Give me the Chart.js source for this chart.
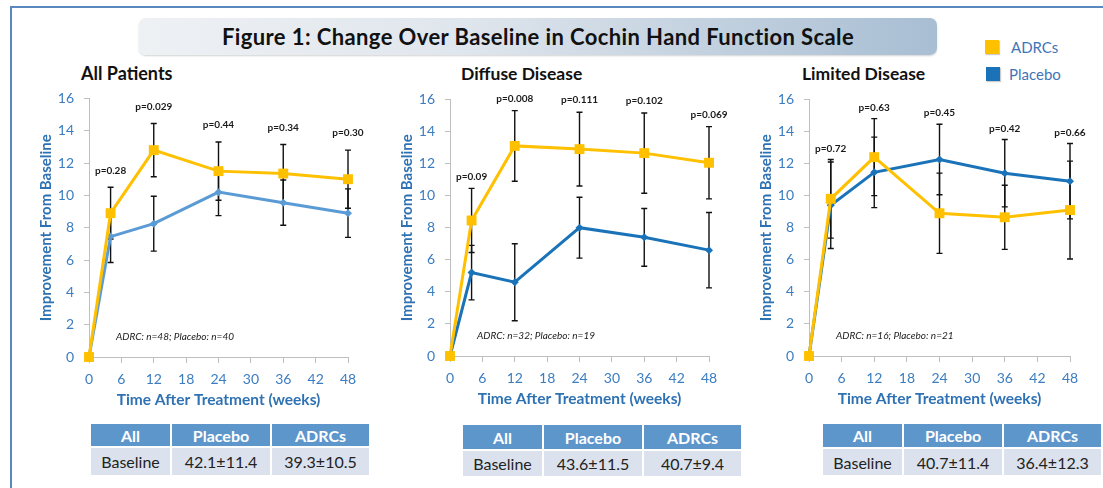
<!DOCTYPE html>
<html><head><meta charset="utf-8">
<script src="https://cdn.jsdelivr.net/npm/chart.js@4.4.1/dist/chart.umd.min.js"></script>
<style>
html,body{margin:0;padding:0;background:#fff;width:1103px;height:488px;overflow:hidden;font-family:Lato,'Open Sans',sans-serif;}
#frame{position:absolute;left:10px;top:6px;width:1200px;height:600px;border-top:2px solid #5b87c0;border-left:2px solid #5b87c0;}
#titlebox{position:absolute;left:139px;top:18px;width:798px;height:37px;border-radius:7px;
 background:linear-gradient(to right,#eef1f4 0%,#e0e6ed 40%,#a8bed3 100%);box-shadow:0 1px 2px rgba(0,0,0,0.18);
 display:flex;align-items:center;justify-content:center;font-weight:bold;font-size:22px;letter-spacing:0.4px;color:#111;}
.sub{position:absolute;font-weight:bold;font-size:17.5px;color:#111;line-height:20px;white-space:nowrap;}
.cw{position:absolute;}
.legsq{position:absolute;width:14px;height:14px;box-shadow:1px 1px 1px rgba(0,0,0,0.2);}
.legtx{position:absolute;font-size:15px;color:#3f75b8;line-height:18px;}
table{position:absolute;border-collapse:collapse;}
th,td{border:2px solid #fff;padding:0;text-align:center;white-space:nowrap;}
th{background:#5d96cb;color:#fff;font-weight:bold;font-size:16px;}
td{background:#dbe2ee;color:#222;font-size:16px;}
</style></head>
<body>
<div id="frame"></div>
<div id="titlebox">Figure 1: Change Over Baseline in Cochin Hand Function Scale</div>

<div class="legsq" style="left:985px;top:40px;background:#ffc000"></div>
<div class="legtx" style="left:1011px;top:38px">ADRCs</div>
<div class="legsq" style="left:986px;top:67px;background:#1a73b8"></div>
<div class="legtx" style="left:1009px;top:65px">Placebo</div>

<div class="sub" style="left:81px;top:63px;font-size:18px">All Patients</div>
<div class="sub" style="left:461px;top:64px">Diffuse Disease</div>
<div class="sub" style="left:802px;top:64px">Limited Disease</div>

<div class="cw" id="w1"><canvas id="c1"></canvas></div>
<div class="cw" id="w2"><canvas id="c2"></canvas></div>
<div class="cw" id="w3"><canvas id="c3"></canvas></div>

<div id="tables"></div>

<script>
// ---- data ----
const weeks = [0, 4, 12, 24, 36, 48];
const seriesNames = ['ADRCs', 'Placebo'];

const allAdrc       = [0, 8.9, 12.8, 11.5, 11.35, 11.0];
const allAdrcErr    = [0, 1.6, 1.65, 1.8, 1.8, 1.8];
const allPlacebo    = [0, 7.45, 8.25, 10.2, 9.55, 8.9];
const allPlaceboErr = [0, 1.6, 1.7, 1.45, 1.4, 1.5];
const allP          = ['p=0.28', 'p=0.029', 'p=0.44', 'p=0.34', 'p=0.30'];
const allN          = 'ADRC: n=48; Placebo: n=40';

const difAdrc       = [0, 8.45, 13.1, 12.9, 12.65, 12.05];
const difAdrcErr    = [0, 2.0, 2.2, 2.3, 2.5, 2.25];
const difPlacebo    = [0, 5.2, 4.6, 8.0, 7.4, 6.6];
const difPlaceboErr = [0, 1.7, 2.4, 1.9, 1.8, 2.35];
const difP          = ['p=0.09', 'p=0.008', 'p=0.111', 'p=0.102', 'p=0.069'];
const difN          = 'ADRC: n=32; Placebo: n=19';

const limAdrc       = [0, 9.8, 12.4, 8.9, 8.65, 9.1];
const limAdrcErr    = [0, 2.45, 2.4, 2.5, 2.0, 3.05];
const limPlacebo    = [0, 9.4, 11.45, 12.25, 11.4, 10.9];
const limPlaceboErr = [0, 2.7, 2.2, 2.2, 2.1, 2.35];
const limP          = ['p=0.72', 'p=0.63', 'p=0.45', 'p=0.42', 'p=0.66'];
const limN          = 'ADRC: n=16; Placebo: n=21';

const tableHead   = ['All', 'Placebo', 'ADRCs'];
const tableRowLbl = 'Baseline';
const allBase     = ['42.1±11.4', '39.3±10.5'];
const difBase     = ['43.6±11.5', '40.7±9.4'];
const limBase     = ['40.7±11.4', '36.4±12.3'];

const xTitle = 'Time After Treatment (weeks)';
const yTitle = 'Improvement From Baseline';

// ---- styling / layout ----
const FONT = 'Lato';
const TICK_COLOR = '#3c7dc1';
const TITLE_COLOR = '#2f72b3';
const AXIS_COLOR = '#bfbfbf';
const ADRC_COLOR = '#ffc000';
const YW = 60, XH = 52, PT = 19, PR = 26;

function buildTable(left, top, colW, base, hh, rh) {
  const t = document.createElement('table');
  t.style.left = (left - 1) + 'px';
  t.style.top = (top - 1) + 'px';
  let html = '<tr>';
  tableHead.forEach((h, i) => html += `<th style="width:${colW[i]}px;height:${hh}px">${h}</th>`);
  html += '</tr><tr>';
  [tableRowLbl, base[0], base[1]].forEach((v, i) => html += `<td style="width:${colW[i]}px;height:${rh}px">${v}</td>`);
  html += '</tr>';
  t.innerHTML = html;
  document.getElementById('tables').appendChild(t);
}
buildTable(90, 423, [79, 98, 97], allBase, 22, 27);
buildTable(462, 424, [79, 98, 97], difBase, 24, 25);
buildTable(822, 423, [80, 99, 98], limBase, 23, 26);

function makePanel(n, area, adrc, adrcErr, plc, plcErr, pLabels, nText, plcColor, pOff) {
  const w = document.getElementById('w' + n);
  const c = document.getElementById('c' + n);
  const W = (area.r - area.l) + YW + PR;
  const H = (area.b - area.t) + PT + XH;
  w.style.left = (area.l - YW) + 'px';
  w.style.top = (area.t - PT) + 'px';
  c.width = W; c.height = H;
  c.style.width = W + 'px'; c.style.height = H + 'px';

  const errs = [[adrc, adrcErr], [plc, plcErr]];
  const plugin = {
    id: 'annot' + n,
    beforeDatasetsDraw(chart) {
      const ctx = chart.ctx, xs = chart.scales.x, ys = chart.scales.y;
      ctx.save();
      ctx.strokeStyle = '#111';
      ctx.lineWidth = 1.4;
      errs.forEach(([vals, e]) => {
        weeks.forEach((wk, i) => {
          if (!e[i]) return;
          const px = xs.getPixelForValue(wk);
          const y1 = ys.getPixelForValue(vals[i] + e[i]);
          const y2 = ys.getPixelForValue(vals[i] - e[i]);
          ctx.beginPath();
          ctx.moveTo(px, y1); ctx.lineTo(px, y2);
          ctx.moveTo(px - 3, y1); ctx.lineTo(px + 3, y1);
          ctx.moveTo(px - 3, y2); ctx.lineTo(px + 3, y2);
          ctx.stroke();
        });
      });
      ctx.restore();
    },
    afterDatasetsDraw(chart) {
      const ctx = chart.ctx, xs = chart.scales.x, ys = chart.scales.y;
      ctx.save();
      ctx.fillStyle = '#1a1a1a';
      ctx.font = `bold 10px ${FONT}`;
      ctx.textAlign = 'center';
      ctx.textBaseline = 'middle';
      pLabels.forEach((lbl, k) => {
        const i = k + 1;
        const top = Math.max(adrc[i] + adrcErr[i], plc[i] + plcErr[i]);
        ctx.fillText(lbl, xs.getPixelForValue(weeks[i]), ys.getPixelForValue(top) - pOff);
      });
      ctx.font = `italic 10px ${FONT}`;
      ctx.textAlign = 'left';
      ctx.fillText(nText, chart.chartArea.left + 27, chart.chartArea.bottom - 20);
      ctx.restore();
    }
  };

  const pts = v => weeks.map((wk, i) => ({x: wk, y: v[i]}));
  new Chart(c, {
    type: 'line',
    data: {
      datasets: [
        {label: seriesNames[0], data: pts(adrc), borderColor: ADRC_COLOR, backgroundColor: ADRC_COLOR,
         borderWidth: 3, pointStyle: 'rect', pointRadius: 7, pointBorderWidth: 0, clip: false, tension: 0},
        {label: seriesNames[1], data: pts(plc), borderColor: plcColor, backgroundColor: plcColor,
         borderWidth: 3, pointStyle: 'rectRot', pointRadius: 4, pointBorderWidth: 0, clip: false, tension: 0}
      ]
    },
    options: {
      responsive: false, animation: false, devicePixelRatio: 1,
      layout: {padding: {top: 0, right: PR, left: 0, bottom: 0}},
      plugins: {legend: {display: false}, tooltip: {enabled: false}},
      scales: {
        x: {
          type: 'linear', min: 0, max: 48,
          ticks: {stepSize: 6, color: TICK_COLOR, font: {family: FONT, size: 14}, padding: 8, maxRotation: 0},
          grid: {drawOnChartArea: false, drawTicks: true, tickLength: 6, color: AXIS_COLOR},
          border: {color: AXIS_COLOR, width: 1},
          title: {display: true, text: xTitle, color: TITLE_COLOR, font: {family: FONT, size: 15.5, weight: 'bold'}, padding: {top: 0, bottom: 0}},
          afterFit: s => { s.height = XH; }
        },
        y: {
          min: 0, max: 16,
          ticks: {stepSize: 2, color: TICK_COLOR, font: {family: FONT, size: 14}, padding: 10},
          grid: {drawOnChartArea: false, drawTicks: true, tickLength: 5, color: AXIS_COLOR},
          border: {color: AXIS_COLOR, width: 1},
          title: {display: true, text: yTitle, color: TITLE_COLOR, font: {family: FONT, size: 15, weight: 'bold'}, padding: {top: 8, bottom: 0}},
          afterFit: s => { s.width = YW; }
        }
      }
    },
    plugins: [plugin]
  });
}

makePanel(1, {l: 89, r: 348, t: 99, b: 357}, allAdrc, allAdrcErr, allPlacebo, allPlaceboErr, allP, allN, '#5b9bd5', 17);
makePanel(2, {l: 450, r: 709, t: 100, b: 356}, difAdrc, difAdrcErr, difPlacebo, difPlaceboErr, difP, difN, '#1a73b8', 12);
makePanel(3, {l: 809, r: 1070, t: 100, b: 356}, limAdrc, limAdrcErr, limPlacebo, limPlaceboErr, limP, limN, '#1a73b8', 11);
</script>
</body></html>
